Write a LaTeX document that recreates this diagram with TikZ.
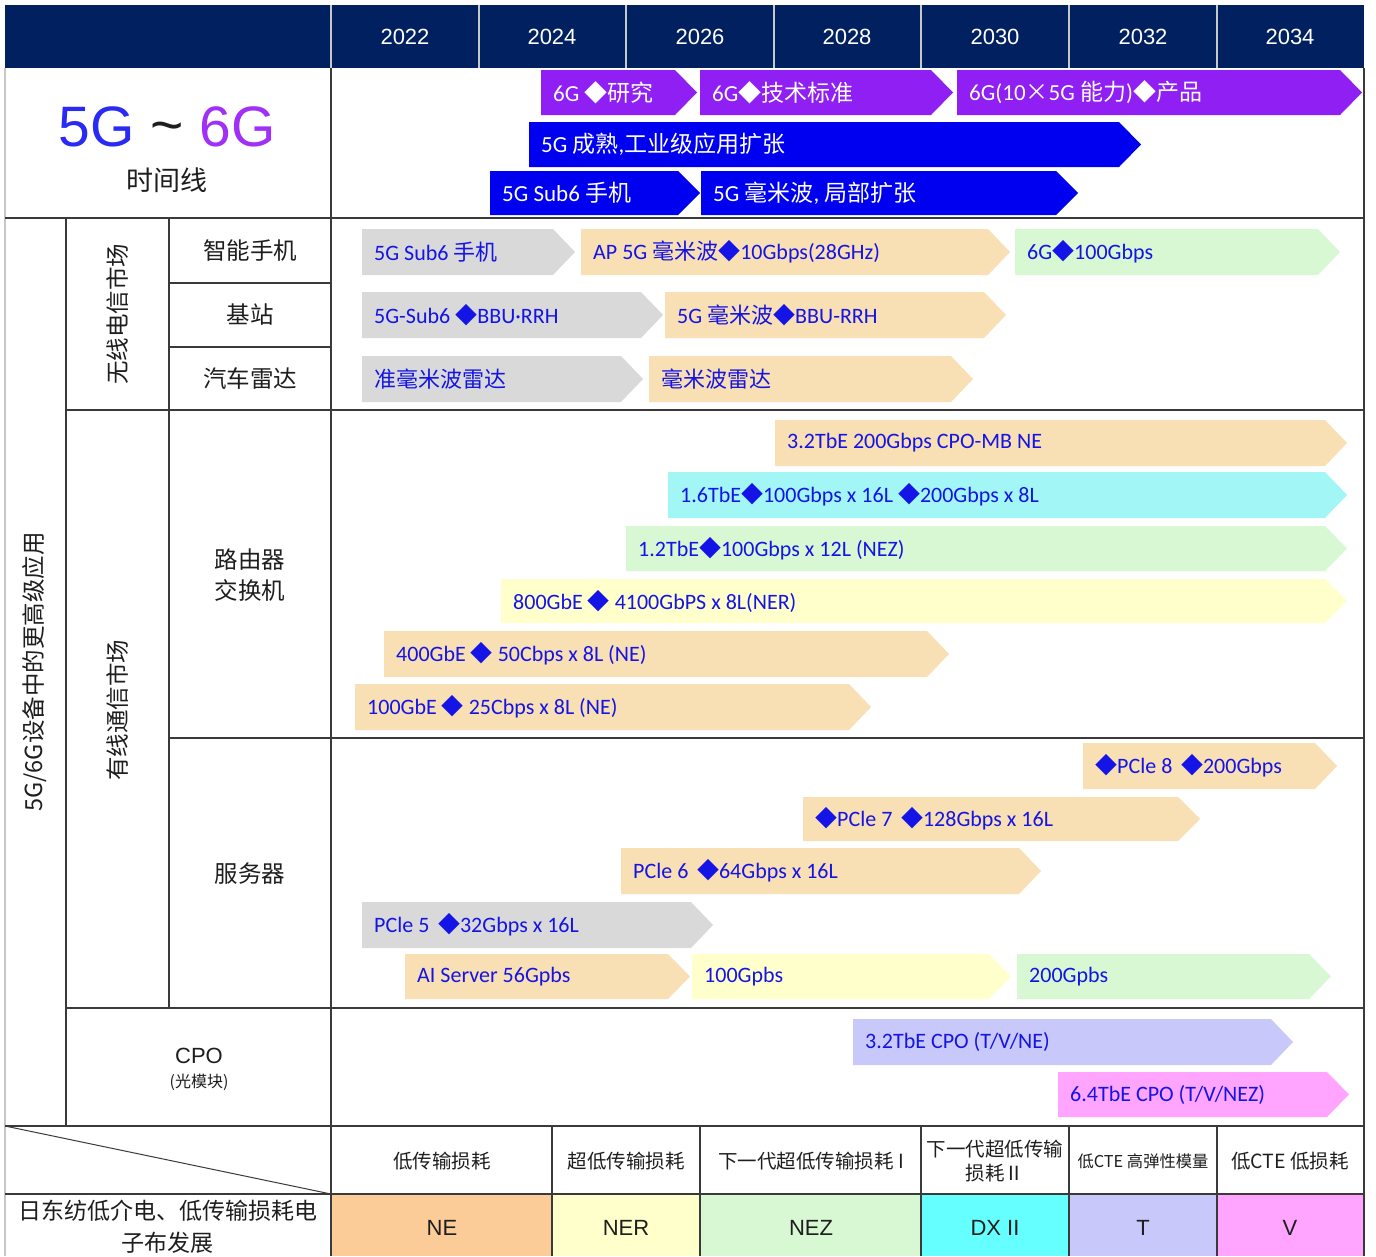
\documentclass[tikz,border=0pt]{standalone}
\usepackage{fontspec}
\setmainfont{Liberation Sans}
\newfontfamily\cjk{Noto Sans CJK SC}
\newfontfamily\calf{Carlito}
\newcommand{\C}[1]{{\cjk #1}}
\definecolor{navy}{HTML}{002060}
\definecolor{gridc}{HTML}{3A3A3A}
\definecolor{lgrid}{HTML}{C8C8C8}
\definecolor{tlpurple}{HTML}{8F1FF2}
\definecolor{tlblue}{HTML}{0000F0}
\definecolor{cgray}{HTML}{D9D9D9}
\definecolor{cpeach}{HTML}{F8DFB4}
\definecolor{cgreen}{HTML}{D8F8D4}
\definecolor{ccyan}{HTML}{A2F6F5}
\definecolor{cyellow}{HTML}{FFFFCC}
\definecolor{clav}{HTML}{C8C8FA}
\definecolor{cpink}{HTML}{FFA5FF}
\definecolor{cne}{HTML}{FBCB98}
\definecolor{cdx}{HTML}{66FFFF}
\definecolor{chevblue}{HTML}{1414E6}
\definecolor{labc}{HTML}{1E1E1E}
\definecolor{fiveg}{HTML}{2A2AF5}
\definecolor{sixg}{HTML}{A030F5}
\newcommand{\chev}[8]{%
  \fill[#6] (#2,#4) -- ({#3-22},#4) -- (#3,{(#4+#5)/2}) -- ({#3-22},#5) -- (#2,#5) -- cycle;
  \node[#7] (#1) at ({#2+12},{(#4+#5)/2}) {#8};
}
\tikzset{
  gridline/.style={draw=gridc, line width=1.3},
  lightline/.style={draw=lgrid, line width=1.2},
  chevtext/.style={font=\calf\fontsize{22}{26}\selectfont, text=chevblue, inner sep=0, anchor=west},
  tltext/.style={font=\calf\fontsize{23}{27}\selectfont, text=white, inner sep=0, anchor=west},
  celllabel/.style={font=\cjk\fontsize{23.5}{31}\selectfont, text=labc, align=center, inner sep=0},
  smalllabel/.style={font=\cjk\fontsize{19.5}{24}\selectfont, text=labc, align=center, inner sep=0},
  yearlabel/.style={font=\fontsize{22}{26}\selectfont, text=white, inner sep=0},
  codelabel/.style={font=\fontsize{22}{26}\selectfont, text=labc, inner sep=0},
}
\begin{document}
\begin{tikzpicture}[x=1pt,y=-1pt]
\useasboundingbox (0,0) rectangle (1376,1256);
\fill[white] (0,0) rectangle (1376,1256);

% header band
\fill[navy] (5,5) rectangle (1364,68);
\foreach \xx in {331,479,626,774,921,1069,1217}{\draw[lightline] (\xx,5) -- (\xx,68);}
\node[yearlabel] (y2022) at (405,37) {2022};
\node[yearlabel] (y2024) at (552,37) {2024};
\node[yearlabel] (y2026) at (700,37) {2026};
\node[yearlabel] (y2028) at (847,37) {2028};
\node[yearlabel] (y2030) at (995,37) {2030};
\node[yearlabel] (y2032) at (1143,37) {2032};
\node[yearlabel] (y2034) at (1290,37) {2034};

% title
\node[font=\fontsize{57}{63}\selectfont, inner sep=0] (title) at (167,127) {\textcolor{fiveg}{5G} \textcolor{labc}{\raisebox{2pt}{\char"007E}} \textcolor{sixg}{6G}};
\node[font=\cjk\fontsize{27}{30}\selectfont, text=labc, inner sep=0] (timeline) at (167,180) {时间线};

% timeline chevrons
\chev{t1}{541}{697}{70}{115}{tlpurple}{tltext}{6G \C{◆研究}}
\chev{t2}{700}{953}{70}{115}{tlpurple}{tltext}{6G\C{◆技术标准}}
\chev{t3}{957}{1362}{70}{115}{tlpurple}{tltext}{6G(10\C{×}5G \C{能力})\C{◆产品}}
\chev{t4}{529}{1141}{122}{167}{tlblue}{tltext}{5G \C{成熟},\C{工业级应用扩张}}
\chev{t5}{490}{700}{171}{215}{tlblue}{tltext}{5G Sub6 \C{手机}}
\chev{t6}{701}{1078}{171}{215}{tlblue}{tltext}{5G \C{毫米波}, \C{局部扩张}}

% wireless market chevrons
\chev{a1}{362}{575}{229}{275}{cgray}{chevtext}{5G Sub6 \C{手机}}
\chev{a2}{581}{1010}{229}{275}{cpeach}{chevtext}{AP 5G \C{毫米波◆}10Gbps(28GHz)}
\chev{a3}{1015}{1340}{229}{275}{cgreen}{chevtext}{6G\C{◆}100Gbps}
\chev{b1}{362}{663}{292}{338}{cgray}{chevtext}{5G-Sub6 \C{◆}BBU·RRH}
\chev{b2}{665}{1006}{292}{338}{cpeach}{chevtext}{5G \C{毫米波◆}BBU-RRH}
\chev{c1}{362}{643}{356}{402}{cgray}{chevtext}{\C{准毫米波雷达}}
\chev{c2}{649}{973}{356}{402}{cpeach}{chevtext}{\C{毫米波雷达}}

% router chevrons
\chev{r1}{775}{1347}{420}{466}{cpeach}{chevtext}{3.2TbE 200Gbps CPO-MB NE}
\chev{r2}{668}{1347}{472}{518}{ccyan}{chevtext}{1.6TbE\C{◆}100Gbps x 16L \C{◆}200Gbps x 8L}
\chev{r3}{626}{1347}{526}{571}{cgreen}{chevtext}{1.2TbE\C{◆}100Gbps x 12L (NEZ)}
\chev{r4}{501}{1347}{579}{623}{cyellow}{chevtext}{800GbE \C{◆} 4100GbPS x 8L(NER)}
\chev{r5}{384}{949}{631}{677}{cpeach}{chevtext}{400GbE \C{◆} 50Cbps x 8L (NE)}
\chev{r6}{355}{871}{684}{730}{cpeach}{chevtext}{100GbE \C{◆} 25Cbps x 8L (NE)}

% server chevrons
\chev{s1}{1083}{1337}{743}{789}{cpeach}{chevtext}{\C{◆}PCle 8 \,\C{◆}200Gbps}
\chev{s2}{803}{1200}{797}{841}{cpeach}{chevtext}{\C{◆}PCle 7 \,\C{◆}128Gbps x 16L}
\chev{s3}{621}{1041}{848}{894}{cpeach}{chevtext}{PCle 6 \,\C{◆}64Gbps x 16L}
\chev{s4}{362}{713}{902}{948}{cgray}{chevtext}{PCle 5 \,\C{◆}32Gbps x 16L}
\chev{s5}{405}{690}{954}{999}{cpeach}{chevtext}{AI Server 56Gpbs}
\chev{s6}{692}{1011}{954}{999}{cyellow}{chevtext}{100Gpbs}
\chev{s7}{1017}{1331}{954}{999}{cgreen}{chevtext}{200Gpbs}

% CPO chevrons
\chev{p1}{853}{1293}{1019}{1065}{clav}{chevtext}{3.2TbE CPO (T/V/NE)}
\chev{p2}{1058}{1349}{1072}{1117}{cpink}{chevtext}{6.4TbE CPO (T/V/NEZ)}

% bottom coloured cells
\fill[cne] (331,1194) rectangle (552,1256);
\fill[cyellow] (552,1194) rectangle (700,1256);
\fill[cgreen] (700,1194) rectangle (921,1256);
\fill[cdx] (921,1194) rectangle (1069,1256);
\fill[clav] (1069,1194) rectangle (1217,1256);
\fill[cpink] (1217,1194) rectangle (1364,1256);

% grid lines
\draw[lightline] (5,68) -- (5,1256);
\draw[gridline] (331,68) -- (331,1256);
\draw[gridline] (1364,68) -- (1364,1256);
\draw[gridline] (5,218) -- (1364,218);
\draw[gridline] (66,410) -- (1364,410);
\draw[gridline] (169,283) -- (331,283);
\draw[gridline] (169,347) -- (331,347);
\draw[gridline] (169,738) -- (1364,738);
\draw[gridline] (66,1008) -- (1364,1008);
\draw[gridline] (5,1126) -- (1364,1126);
\draw[gridline] (5,1194) -- (1364,1194);
\draw[gridline] (66,218) -- (66,1126);
\draw[gridline] (169,218) -- (169,1008);
\foreach \xx in {552,700,921,1069,1217}{\draw[gridline] (\xx,1126) -- (\xx,1256);}
\coordinate (dA) at (5,1126);
\coordinate (dB) at (331,1194);
\draw[gridline, line width=1] (dA) -- (dB);

% left labels
\node[celllabel, rotate=90] (app) at (35,672) {5G/6G设备中的更高级应用};
\node[celllabel, rotate=90] (wless) at (118,314) {无线电信市场};
\node[celllabel, rotate=90] (wired) at (118,710) {有线通信市场};
\node[celllabel] (phone) at (250,251) {智能手机};
\node[celllabel] (bs) at (250,315) {基站};
\node[celllabel] (radar) at (250,379) {汽车雷达};
\node[celllabel] (router) at (250,575) {路由器\\交换机};
\node[celllabel] (server) at (250,874) {服务器};
\node[codelabel] (cpo) at (199,1056) {CPO};
\node[font=\cjk\fontsize{16}{20}\selectfont, text=labc, inner sep=0] (cpomod) at (199,1082) {(光模块)};

% bottom header labels
\node[smalllabel] (h1) at (442,1161) {低传输损耗};
\node[smalllabel] (h2) at (626,1161) {超低传输损耗};
\node[smalllabel] (h3) at (811,1161) {下一代超低传输损耗 I};
\node[smalllabel] (h4) at (995,1161) {下一代超低传输\\损耗Ⅱ};
\node[font=\cjk\fontsize{16.3}{20}\selectfont, text=labc, inner sep=0] (h5) at (1143,1161) {低CTE 高弹性模量};
\node[smalllabel] (h6) at (1290,1161) {低CTE 低损耗};

% bottom row
\node[font=\cjk\fontsize{23}{32}\selectfont, text=labc, align=center, inner sep=0] (nitto) at (168,1227) {日东纺低介电、低传输损耗电\\子布发展};
\node[codelabel] (ne) at (442,1228) {NE};
\node[codelabel] (ner) at (626,1228) {NER};
\node[codelabel] (nez) at (811,1228) {NEZ};
\node[codelabel] (dx) at (995,1228) {DX II};
\node[codelabel] (tt) at (1143,1228) {T};
\node[codelabel] (vv) at (1290,1228) {V};
\end{tikzpicture}
\end{document}
